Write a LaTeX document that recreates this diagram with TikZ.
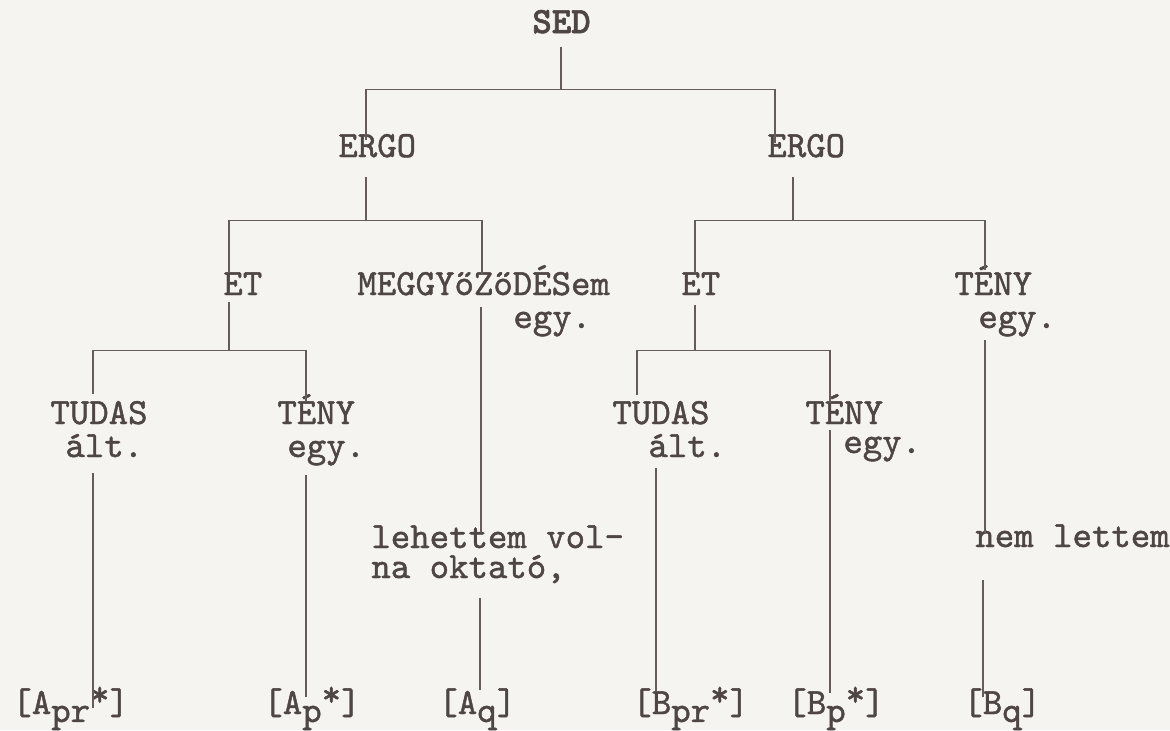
\documentclass[tikz,border=0pt]{standalone}
\usepackage{fontspec}
\newfontfamily\twfam{lmmono10-regular.otf}[FakeBold=1.2]
\newfontfamily\twbold{lmmonolt10-bold.otf}[FakeBold=1.6]
\usepackage{xcolor}
\definecolor{Paper}{HTML}{F6F4F1}
\definecolor{Ink}{HTML}{4E4644}
\definecolor{Rule}{HTML}{655C5A}
\usepackage{tikz}
\usetikzlibrary{calc}
\newcommand\tw{\fontsize{18.5}{22}\selectfont\twfam}
\newcommand\lowr[1]{\raisebox{-0.5ex}{#1}}
\newcommand\upr[1]{\raisebox{0.5ex}{#1}}

\begin{document}
\begin{tikzpicture}[x=0.5pt, y=-0.5pt,
  lbl/.style={anchor=base west, inner sep=0pt, text height=11pt, text depth=0pt, font=\tw, text=Ink},
  edge/.style={draw=Rule, line width=0.8pt}]
  % page, 1170 x 730 px
  \fill[Paper] (0,0) rectangle (1170,730);
  \path[use as bounding box] (0,0) rectangle (1170,730);
  % root and second level
  \node[lbl, font=\fontsize{18.5}{22}\selectfont\twbold] (sed) at (532,33) {SED};
  \node[lbl] (ergoL) at (338,157) {ERGO};
  \node[lbl] (ergoR) at (767,157) {ERGO};
  % third level
  \node[lbl] (etL) at (223,295) {ET};
  \node[lbl] (meggy) at (357,295) {MEGGYőZőDÉSem};
  \node[lbl] (meggyq) at (513,328) {egy.};
  \node[lbl] (etR) at (681,295) {ET};
  \node[lbl] (tenyR) at (954,295) {TÉNY};
  \node[lbl] (tenyRq) at (978,328) {egy.};
  % fourth level
  \node[lbl] (tudasL) at (50,424) {TUDAS};
  \node[lbl] (tudasLq) at (65,457) {ált.};
  \node[lbl] (tenyL) at (277,424) {TÉNY};
  \node[lbl] (tenyLq) at (287,457) {egy.};
  \node[lbl] (tudasR) at (612,424) {TUDAS};
  \node[lbl] (tudasRq) at (648,457) {ált.};
  \node[lbl] (tenyB) at (805,424) {TÉNY};
  \node[lbl] (tenyBq) at (843,453) {egy.};
  % sentence parts
  \node[lbl] (lehet) at (371,548) {lehettem vol-};
  \node[lbl] (oktato) at (371,578) {na oktató,};
  \node[lbl] (nemlet) at (975,547) {nem lettem};
  % bottom row
  \foreach \n/\x/\t in {aPr/12/{[A\lowr{pr}\upr{*}]}, aP/263/{[A\lowr{p}\upr{*}]}, aQ/438/{[A\lowr{q}]},
                        bPr/632/{[B\lowr{pr}\upr{*}]}, bP/787/{[B\lowr{p}\upr{*}]}, bQ/963/{[B\lowr{q}]}} {
    \node[lbl] (\n) at (\x,714) {\t};
  }
  % SED -> ERGO
  \draw[edge] ([shift={(28,5)}]ergoL.north west) |- ([shift={(29,56)}]sed.south west) -- ([shift={(29,14)}]sed.south west);
  \draw[edge] ([shift={(8,8)}]ergoR.north west) |- ([shift={(29,56)}]sed.south west);
  % ERGO -> ET, MEGGYőZőDÉSem / ET, TÉNY
  \draw[edge] ([shift={(6,0)}]etL.north west) |- ([shift={(28,63)}]ergoL.south west) -- ([shift={(28,20)}]ergoL.south west);
  \draw[edge] ([shift={(125,2)}]meggy.north west) |- ([shift={(28,63)}]ergoL.south west);
  \draw[edge] ([shift={(14,0)}]etR.north west) |- ([shift={(26,63)}]ergoR.south west) -- ([shift={(26,20)}]ergoR.south west);
  \draw[edge] ([shift={(31,-3)}]tenyR.north west) |- ([shift={(26,63)}]ergoR.south west);
  % ET -> TUDAS, TÉNY
  \draw[edge] ([shift={(43,-8)}]tudasL.north west) |- ([shift={(6,55)}]etL.south west) -- ([shift={(6,7)}]etL.south west);
  \draw[edge] ([shift={(29,0)}]tenyL.north west) |- ([shift={(6,55)}]etL.south west);
  \draw[edge] ([shift={(25,-7)}]tudasR.north west) |- ([shift={(14,55)}]etR.south west) -- ([shift={(14,10)}]etR.south west);
  \draw[edge] ([shift={(25,1)}]tenyB.north west) |- ([shift={(14,55)}]etR.south west);
  % down to the bottom row
  \draw[edge] ([shift={(124,12)}]meggy.south west) -- ([shift={(110,7)}]lehet.north west);
  \draw[edge] ([shift={(109,20)}]oktato.south west) -- ([shift={(42,-2)}]aQ.north west);
  \draw[edge] ([shift={(7,12)}]tenyRq.south west) -- ([shift={(10,8)}]nemlet.north west);
  \draw[edge] ([shift={(8,33)}]nemlet.south west) -- ([shift={(20,5)}]bQ.north west);
  \draw[edge] ([shift={(28,16)}]tudasLq.south west) -- ([shift={(81,16)}]aPr.north west);
  \draw[edge] ([shift={(19,18)}]tenyLq.south west) -- ([shift={(43,5)}]aP.north west);
  \draw[edge] ([shift={(8,11)}]tudasRq.south west) -- ([shift={(24,0)}]bPr.north west);
  \draw[edge] ([shift={(25,6)}]tenyB.south west) -- ([shift={(43,1)}]bP.north west);
\end{tikzpicture}
\end{document}
